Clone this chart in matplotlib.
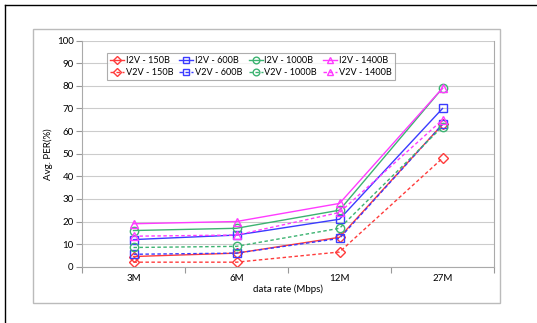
import matplotlib.pyplot as plt
from matplotlib.patches import Rectangle
from matplotlib.lines import Line2D

categories = ["3M", "6M", "12M", "27M"]
i2v_150 = [4.5, 6, 13, 63]
v2v_150 = [2, 2, 6.5, 48]
i2v_600 = [12, 14, 21, 70]
v2v_600 = [5.5, 6, 12.5, 63]
i2v_1000 = [16, 17, 25, 79]
v2v_1000 = [8.5, 9, 17, 62]
i2v_1400 = [19, 20, 28, 79]
v2v_1400 = [13.5, 14, 24, 65]

series = [
    ("I2V - 150B", i2v_150, "#FF3B3B", "D", "-"),
    ("V2V - 150B", v2v_150, "#FF3B3B", "D", "--"),
    ("I2V - 600B", i2v_600, "#3B3BFF", "s", "-"),
    ("V2V - 600B", v2v_600, "#3B3BFF", "s", "--"),
    ("I2V - 1000B", i2v_1000, "#3CB371", "o", "-"),
    ("V2V - 1000B", v2v_1000, "#3CB371", "o", "--"),
    ("I2V - 1400B", i2v_1400, "#FF3BFF", "^", "-"),
    ("V2V - 1400B", v2v_1400, "#FF3BFF", "^", "--"),
]

plt.rcParams['font.family'] = ['Lato', 'DejaVu Sans']
fig = plt.figure(figsize=(5.37, 3.23), dpi=100)
W, H = 537, 323
ax = fig.add_axes([82 / W, 1 - 266.7 / H, (494 - 82) / W, (266.7 - 40.7) / H])

# outer decorations
fig.add_artist(Rectangle((33 / W, 1 - 303 / H), (500 - 33) / W, (303 - 29) / H,
                         transform=fig.transFigure, fill=False, ec="#BBBBBB", lw=1))
fig.add_artist(Line2D([5 / W, 5 / W], [0, 1 - 5 / H], transform=fig.transFigure, color="black", lw=1))
fig.add_artist(Line2D([5 / W, 1], [1 - 5 / H, 1 - 5 / H], transform=fig.transFigure, color="black", lw=1))

x = [i + 0.5 for i in range(len(categories))]
for label, vals, col, mk, ls in series:
    style = "-" if ls == "-" else (0, (2.5, 1.8))
    ax.plot(x, vals, color=col, linestyle=style, lw=1, marker=mk,
            markersize=6 if mk != "D" else 5, markerfacecolor="none",
            markeredgecolor=col, markeredgewidth=1, label=label)

ax.set_xlim(0, 4)
ax.set_ylim(0, 100)
ax.set_yticks(range(0, 101, 10))
ax.set_xticks([0, 1, 2, 3, 4], minor=False)
ax.set_xticklabels([])
ax.set_xticks(x, minor=True)
ax.set_xticklabels(categories, minor=True)
ax.tick_params(axis='x', which='minor', length=0, labelsize=7, pad=5)
ax.tick_params(axis='x', which='major', length=4, color="#999999", direction="out")
ax.tick_params(axis='y', labelsize=7, length=4, color="#999999", direction="out", pad=2)
ax.grid(axis='y', color="#CCCCCC", lw=0.8)
ax.set_axisbelow(True)
ax.spines["top"].set_visible(False)
for s in ["left", "bottom", "right"]:
    ax.spines[s].set_color("#AAAAAA")
ax.set_xlabel("data rate (Mbps)", fontsize=7, labelpad=1)
ax.set_ylabel("Avg. PER(%)", fontsize=7, labelpad=3)

handles, labels = ax.get_legend_handles_labels()
leg = ax.legend(handles, labels, ncol=4, fontsize=6.6, loc="upper left",
                bbox_to_anchor=(0.05, 0.965), frameon=True, fancybox=False,
                edgecolor="#999999", handlelength=1.5, handletextpad=0.2,
                columnspacing=0.7, borderpad=0.3, labelspacing=0.35,
                markerscale=0.8)
leg.get_frame().set_linewidth(0.8)

fig.savefig("out.png", dpi=100)
